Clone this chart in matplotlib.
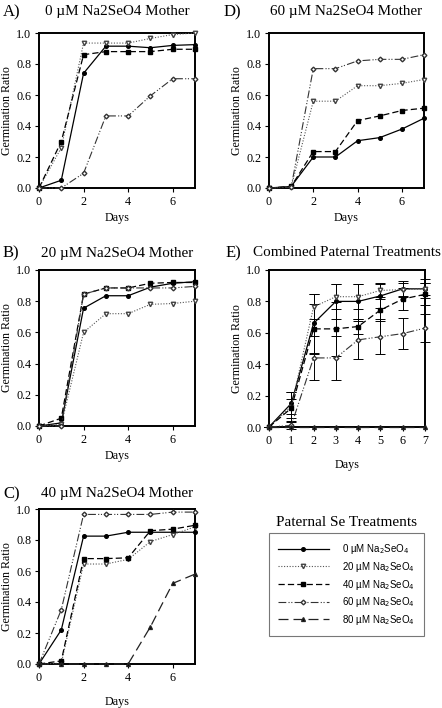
import numpy as np
import matplotlib
matplotlib.use("Agg")
import matplotlib.pyplot as plt
from matplotlib.lines import Line2D

days = [0, 1, 2, 3, 4, 5, 6, 7]
treatments = ["0 µM Na$_2$SeO$_4$", "20 µM Na$_2$SeO$_4$", "40 µM Na$_2$SeO$_4$",
              "60 µM Na$_2$SeO$_4$", "80 µM Na$_2$SeO$_4$"]

# Panel A: 0 uM mother
A_0 = [0, 0.05, 0.74, 0.915, 0.915, 0.905, 0.92, 0.925]
A_20 = [0, 0.26, 0.935, 0.935, 0.935, 0.965, 0.99, 1.0]
A_40 = [0, 0.30, 0.86, 0.88, 0.88, 0.88, 0.895, 0.895]
A_60 = [0, 0.0, 0.095, 0.465, 0.465, 0.595, 0.705, 0.705]

# Panel B: 20 uM mother
B_0 = [0, 0.02, 0.755, 0.835, 0.835, 0.89, 0.915, 0.925]
B_20 = [0, 0.01, 0.60, 0.72, 0.72, 0.78, 0.785, 0.80]
B_40 = [0, 0.05, 0.845, 0.885, 0.885, 0.915, 0.92, 0.92]
B_60 = [0, 0.0, 0.845, 0.885, 0.885, 0.885, 0.885, 0.895]

# Panel C: 40 uM mother
C_0 = [0, 0.22, 0.825, 0.825, 0.85, 0.85, 0.85, 0.85]
C_20 = [0, 0.005, 0.645, 0.645, 0.675, 0.79, 0.835, 0.885]
C_40 = [0, 0.02, 0.68, 0.68, 0.685, 0.86, 0.87, 0.895]
C_60 = [0, 0.35, 0.965, 0.965, 0.965, 0.965, 0.98, 0.98]
C_80 = [0, 0, 0, 0, 0, 0.24, 0.52, 0.58]

# Panel D: 60 uM mother
D_0 = [0, 0.01, 0.20, 0.20, 0.305, 0.325, 0.38, 0.45]
D_20 = [0, 0.005, 0.56, 0.56, 0.66, 0.66, 0.675, 0.70]
D_40 = [0, 0.01, 0.235, 0.235, 0.435, 0.465, 0.50, 0.515]
D_60 = [0, 0.005, 0.77, 0.77, 0.82, 0.83, 0.83, 0.86]

# Panel E: combined paternal treatments (mean and error)
E_0 = [0, 0.15, 0.66, 0.80, 0.80, 0.835, 0.88, 0.88]
E_0_err = [0, 0.07, 0.19, 0.11, 0.11, 0.08, 0.05, 0.06]
E_20 = [0, 0.13, 0.765, 0.83, 0.83, 0.87, 0.875, 0.88]
E_20_err = [0, 0.09, 0.08, 0.08, 0.08, 0.04, 0.04, 0.04]
E_40 = [0, 0.12, 0.625, 0.625, 0.64, 0.745, 0.815, 0.845]
E_40_err = [0, 0.06, 0.16, 0.17, 0.05, 0.07, 0.07, 0.07]
E_60 = [0, 0.01, 0.44, 0.44, 0.555, 0.575, 0.595, 0.63]
E_60_err = [0, 0.02, 0.14, 0.14, 0.12, 0.11, 0.10, 0.09]
E_80 = [0, 0, 0, 0, 0, 0, 0, 0]

styles = [
    dict(color="black", ls="-", marker="o", mfc="black", ms=2.6, lw=0.9),
    dict(color="#555555", ls=(0, (1, 1.5)), marker="v", mfc="white", mec="#444444", ms=3.2, lw=0.8),
    dict(color="black", ls=(0, (5, 2.5)), marker="s", mfc="black", ms=2.6, lw=0.9),
    dict(color="#333333", ls=(0, (7, 2, 1, 1.5, 1, 2)), marker="D", mfc="white", mec="#333333", ms=2.4, lw=0.8),
    dict(color="#222222", ls=(0, (8, 4)), marker="^", mfc="black", ms=2.8, lw=0.9),
]

serif = "Liberation Serif"
W, H = 442, 708
fig = plt.figure(figsize=(W / 100, H / 100), dpi=100)


def make_ax(l, r, t, b):
    return fig.add_axes([l / W, 1 - b / H, (r - l) / W, (b - t) / H])


def style_ax(ax, xticks, xlabpad, ylab_x):
    ax.set_xlim(0, 7)
    ax.set_ylim(0, 1)
    ax.set_xticks(xticks)
    ax.set_yticks(np.arange(0, 1.01, 0.2))
    ax.set_yticklabels([f"{v:.1f}" for v in np.arange(0, 1.01, 0.2)])
    for s in ax.spines.values():
        s.set_linewidth(1.4)
    ax.tick_params(direction="out", length=3, width=0.8, labelsize=8.7, pad=2.5)
    for lab in ax.get_xticklabels() + ax.get_yticklabels():
        lab.set_fontfamily(serif)
    ax.set_xlabel("Days", fontfamily=serif, fontsize=8.7, labelpad=xlabpad)
    bb = ax.get_position()
    fig.text(ylab_x / W, (bb.y0 + bb.y1) / 2, "Germination Ratio", fontfamily=serif,
             fontsize=8.6, rotation=90, ha="center", va="center")


def plot_series(ax, series):
    for data, st in zip(series, styles):
        if data is None:
            continue
        ax.plot(days, data, clip_on=False, zorder=3, **st)


def panel_title(ax, letter, text, yc, lx):
    bb = ax.get_position()
    fig.text(lx / W, 1 - yc / H, letter, fontfamily=serif, fontsize=12, va="center", ha="left")
    fig.text((bb.x0 + bb.x1) / 2, 1 - yc / H, text, fontfamily=serif, fontsize=10.9, va="center", ha="center")


axA = make_ax(39, 195, 33, 188)
plot_series(axA, [A_0, A_20, A_40, A_60, None])
style_ax(axA, [0, 2, 4, 6], 3.5, 7.5)
panel_title(axA, "A)", "0 µM Na2SeO4 Mother", 12, 3)

axD = make_ax(269, 424, 33, 188)
plot_series(axD, [D_0, D_20, D_40, D_60, None])
style_ax(axD, [0, 2, 4, 6], 3.5, 237.5)
panel_title(axD, "D)", "60 µM Na2SeO4 Mother", 12, 224)

axB = make_ax(39, 195, 270, 426)
plot_series(axB, [B_0, B_20, B_40, B_60, None])
style_ax(axB, [0, 2, 4, 6], 3.5, 7.5)
panel_title(axB, "B)", "20 µM Na2SeO4 Mother", 253, 3)

axC = make_ax(39, 195, 509, 664)
plot_series(axC, [C_0, C_20, C_40, C_60, C_80])
style_ax(axC, [0, 2, 4, 6], 9, 7.5)
panel_title(axC, "C)", "40 µM Na2SeO4 Mother", 494, 3)

axE = make_ax(269, 425, 270, 427)
E_means = [E_0, E_20, E_40, E_60, E_80]
E_errs = [E_0_err, E_20_err, E_40_err, E_60_err, None]
for m, e, st in zip(E_means, E_errs, styles):
    ax_kw = dict(st)
    if e is not None:
        axE.errorbar(days, m, yerr=e, ecolor="black", elinewidth=0.7, capsize=3.5,
                     capthick=0.7, clip_on=False, zorder=3, **ax_kw)
    else:
        axE.plot(days, m, clip_on=False, zorder=4, **ax_kw)
style_ax(axE, list(range(8)), 9, 237.5)
panel_title(axE, "E)", "Combined Paternal Treatments", 253, 226)

# Legend
handles = [Line2D([0], [0], **st) for st in styles]
fig.text(346.5 / W, 1 - 523 / H, "Paternal Se Treatments", fontfamily=serif,
         fontsize=11, ha="center", va="center")
leg = fig.legend(handles, treatments, loc="center", bbox_to_anchor=(346.5 / W, 1 - 584.5 / H),
                 prop=dict(family="Liberation Sans", size=7.0), handlelength=5.2,
                 handletextpad=1.4, labelspacing=0.38, borderpad=0.9, fancybox=False,
                 frameon=True, borderaxespad=0)
leg.get_frame().set_edgecolor("#555555")
leg.get_frame().set_linewidth(0.8)

fig.savefig("out.png", dpi=100)
